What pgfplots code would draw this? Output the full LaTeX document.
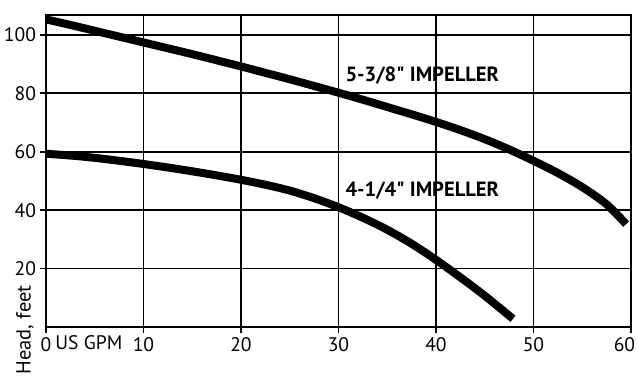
\documentclass[border=0pt]{standalone}
\usepackage{fontspec}
\setmainfont{PT Sans}
\newfontfamily\labfont{PT Sans}
\usepackage{pgfplots}
\pgfplotsset{compat=1.18}
\begin{document}
\begin{tikzpicture}
\useasboundingbox (-23pt,-24.5pt) rectangle (295.5pt,163.5pt);
\begin{axis}[
  at={(0,0)}, anchor=south west,
  scale only axis, width=292.5pt, height=156pt,
  xmin=0, xmax=60, ymin=0, ymax=106.8,
  xtick={0,10,20,30,40,50,60},
  xticklabels={0,10,20,30,40,50,{60\hspace*{6.5pt}}},
  ytick={20,40,60,80,100},
  grid=major,
  major grid style={black, line width=0.9pt},
  axis line style={black, line width=1pt},
  tick style={black, line width=0.9pt},
  tick align=outside,
  major tick length=3pt,
  xtick pos=bottom, ytick pos=left,
  /pgf/number format/assume math mode=true,
  tick label style={font=\fontsize{9.8}{11}\selectfont},
  xticklabel style={yshift=1.5pt},
  yticklabel style={xshift=1.5pt},
  clip=false,
]
\addplot[black, line width=4pt, smooth, tension=0.5] coordinates {
 (0,105.3) (2.5,103.4) (5,101.4) (7.5,99.4) (10,97.4) (12.5,95.4) (15,93.4) (17.5,91.3) (20,89.2) (22.5,87.0) (25,84.8) (27.5,82.5) (30,80.2) (32.5,77.8) (35,75.3) (37.5,72.8) (40,70.2) (42.5,67.4) (45,64.3) (47.5,60.8) (50,56.9) (52.5,52.7) (55,47.9) (57.5,42.0) (59.5,35.2)
};
\addplot[black, line width=4pt, smooth, tension=0.5] coordinates {
 (0,59.3) (2.5,58.7) (5,57.9) (7.5,56.9) (10,55.8) (12.5,54.6) (15,53.3) (17.5,51.9) (20,50.4) (22.5,48.7) (25,46.7) (27.5,44.1) (30,41.0) (32.5,37.4) (35,33.3) (37.5,28.5) (40,23.0) (42.5,17.0) (45,10.7) (47.9,2.8)
};
\node[anchor=west, font=\labfont\fontsize{10.3}{12}\selectfont\bfseries] at (axis cs:30.0,86.0) {5-3/8\symbol{34} IMPELLER};
\node[anchor=west, font=\labfont\fontsize{10.3}{12}\selectfont\bfseries] at (axis cs:30.0,46.8) {4-1/4\symbol{34} IMPELLER};
\end{axis}
\path (4.5pt,-11pt) node[anchor=base west, font=\fontsize{9.8}{11}\selectfont, inner sep=0pt] {US GPM};
\path (-10.5pt,-23.8pt) node[rotate=90, anchor=west, font=\fontsize{10.2}{12}\selectfont, inner sep=0pt] {Head, feet};
\end{tikzpicture}
\end{document}
